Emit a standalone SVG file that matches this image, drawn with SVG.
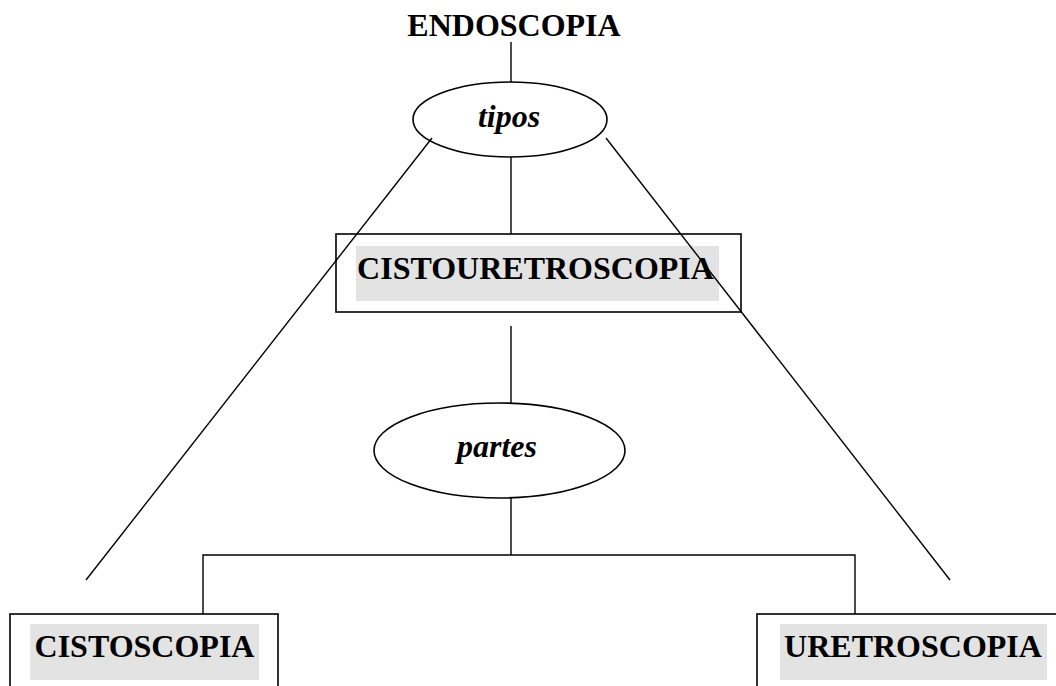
<svg xmlns="http://www.w3.org/2000/svg" width="1056" height="686" viewBox="0 0 1056 686">
  <style>
    .ln { stroke: #000; stroke-width: 1.4; fill: none; }
    .box { stroke: #000; stroke-width: 1.6; fill: none; }
    .hl { fill: #e3e3e3; }
    .title { font-family: "Liberation Serif", "Times New Roman", serif; font-weight: bold; font-size: 32px; fill: #000; }
    .rel { font-family: "Liberation Serif", "Times New Roman", serif; font-weight: bold; font-style: italic; font-size: 32px; fill: #000; text-anchor: middle; }
  </style>
  <rect width="1056" height="686" fill="#fff"/>

  <g id="endoscopia">
    <text class="title" x="514" y="36" text-anchor="middle">ENDOSCOPIA</text>
  </g>

  <g id="tipos">
    <ellipse class="box" cx="510" cy="119.5" rx="97" ry="37.5"/>
    <text class="rel" x="509" y="127">tipos</text>
  </g>

  <g id="cistouretroscopia">
    <rect class="box" x="336" y="234" width="405" height="78"/>
    <rect class="hl" x="356" y="246" width="363" height="55"/>
    <text class="title" x="535.5" y="279" text-anchor="middle">CISTOURETROSCOPIA</text>
  </g>

  <g id="partes">
    <ellipse class="box" cx="499.5" cy="450.5" rx="125.5" ry="47.5"/>
    <text class="rel" x="497" y="457">partes</text>
  </g>

  <g id="cistoscopia">
    <rect class="box" x="10" y="614" width="268" height="90"/>
    <rect class="hl" x="30" y="624" width="229" height="56"/>
    <text class="title" x="144.5" y="657" text-anchor="middle">CISTOSCOPIA</text>
  </g>

  <g id="uretroscopia">
    <rect class="box" x="757" y="614" width="320" height="90"/>
    <rect class="hl" x="780" y="624" width="267" height="56"/>
    <text class="title" x="913" y="657" text-anchor="middle">URETROSCOPIA</text>
  </g>

  <!-- connectors, drawn over the nodes -->
  <g id="connectors">
    <line class="ln" x1="511" y1="42" x2="511" y2="82"/>
    <line class="ln" x1="511" y1="157" x2="511" y2="234"/>
    <line class="ln" x1="432" y1="138" x2="86" y2="580"/>
    <line class="ln" x1="606" y1="138" x2="950" y2="580"/>
    <line class="ln" x1="511" y1="326" x2="511" y2="403"/>
    <line class="ln" x1="511" y1="498" x2="511" y2="555"/>
    <polyline class="ln" points="203,614 203,555 855,555 855,614"/>
  </g>
</svg>
